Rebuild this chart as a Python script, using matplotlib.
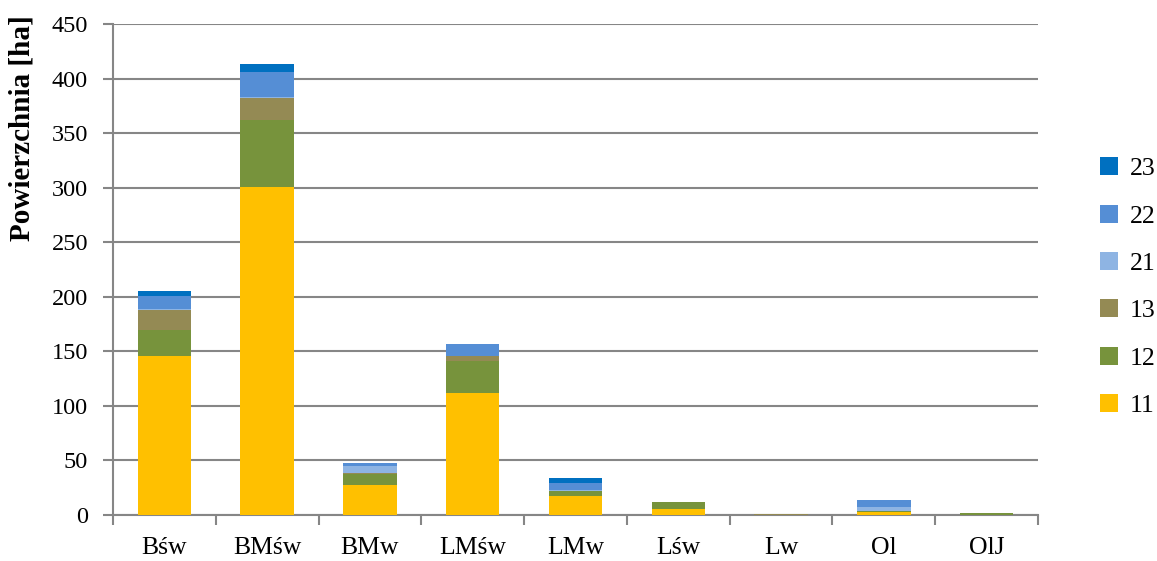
import numpy as np
import matplotlib
matplotlib.use('Agg')
import matplotlib.pyplot as plt

categories = ['Bśw', 'BMśw', 'BMw', 'LMśw', 'LMw', 'Lśw', 'Lw', 'Ol', 'OlJ']
series_names = ['11', '12', '13', '21', '22', '23']
s11 = [145.5, 301, 27.8, 112, 17, 5.5, 0, 3, 0]
s12 = [24, 61, 9.5, 29, 5, 6, 0, 1, 1.5]
s13 = [18, 20.5, 1, 4.5, 0, 0, 0.5, 0, 0]
s21 = [1, 0.5, 7, 0.5, 0.5, 0, 0, 3.6, 0]
s22 = [12.5, 23, 2, 10.4, 7, 0, 0, 6, 0]
s23 = [4.3, 7.6, 0, 0, 4.7, 0, 0, 0, 0]
colors = ['#FFC000', '#77933C', '#948A54', '#8EB4E3', '#558ED5', '#0070C0']

plt.rcParams['font.family'] = ['Liberation Serif', 'DejaVu Serif']

fig = plt.figure(figsize=(11.57, 5.61), dpi=100)
ax = fig.add_axes([113/1157, 46/561, 925/1157, 491/561])

x = np.arange(len(categories))
bottom = np.zeros(len(categories))
handles = []
for name, vals, c in zip(series_names, [s11, s12, s13, s21, s22, s23], colors):
  vals = np.array(vals)
  h = ax.bar(x, vals, 0.52, bottom=bottom, color=c, label=name, zorder=3)
  handles.append(h)
  bottom += vals

ax.set_xlim(-0.5, len(categories) - 0.5)
ax.set_ylim(0, 450)
ax.set_yticks(np.arange(0, 451, 50))
ax.yaxis.grid(True, color='#868686', linewidth=1.5, zorder=0)
ax.set_axisbelow(True)

ax.set_xticks(x)
ax.set_xticklabels(categories, fontsize=18.5)
ax.set_xticks(np.arange(-0.5, len(categories)), minor=True)
ax.tick_params(axis='x', which='major', length=0, pad=16)
ax.tick_params(axis='x', which='minor', length=7, width=1.5, color='#868686')
ax.tick_params(axis='y', labelsize=17.5, length=7, width=1.5, color='#868686', pad=11)

for s in ['top', 'right']:
  ax.spines[s].set_visible(False)
for s in ['left', 'bottom']:
  ax.spines[s].set_color('#868686')
  ax.spines[s].set_linewidth(1.5)

ax.set_ylabel('Powierzchnia [ha]', fontsize=21, fontweight='bold',
              va='center', ha='center')
# label sits in the upper part of the axis, as in the original
ax.yaxis.set_label_coords(-0.098, 0.788)

leg = fig.legend(handles[::-1], series_names[::-1], loc='center left',
                 bbox_to_anchor=(1100/1157, 0.488), frameon=False, fontsize=18.5,
                 handlelength=0.7, handleheight=0.7, labelspacing=0.95, handletextpad=0.45,
                 borderpad=0, borderaxespad=0)

fig.savefig('out.png', dpi=100)
